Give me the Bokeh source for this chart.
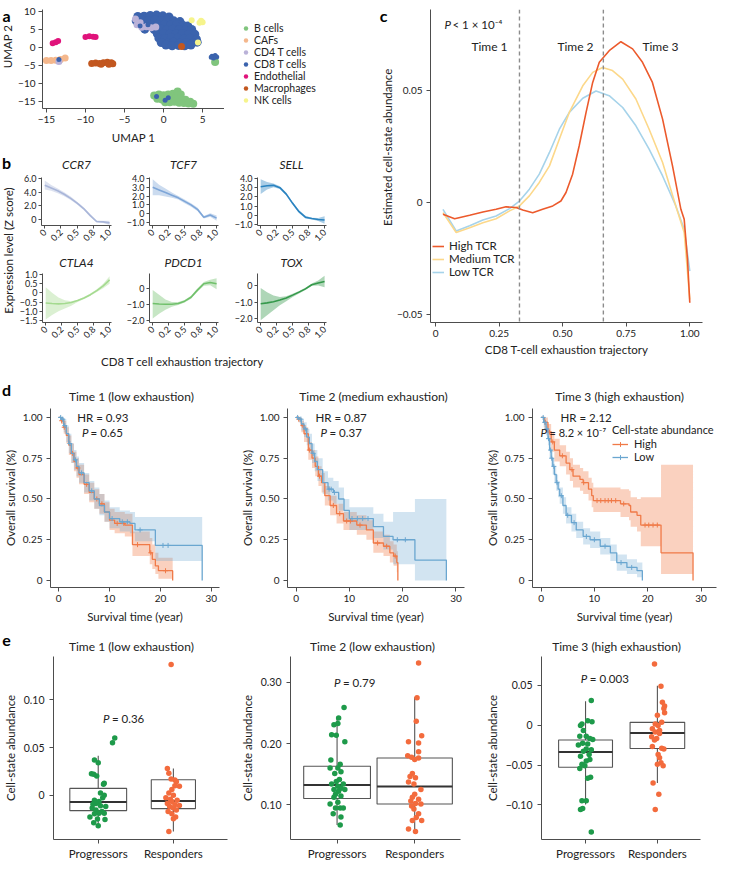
import numpy as np
from bokeh.plotting import figure
from bokeh.layouts import row, column
from bokeh.models import Range1d, FixedTicker, Label, Legend, LegendItem, Span
from bokeh.embed import file_html
from bokeh.resources import INLINE

# ---------------- DATA ----------------
# panel a : UMAP
bcell_x = [-1.2, -0.6, 0.0, 0.6, 1.2, 1.8, 2.2, -0.8, -0.2, 0.4, 1.0, 1.6, 2.2, 2.8, 3.4, 0.2, 0.8, 1.4, 2.0, 2.6, 3.2, 3.8, 6.6]
bcell_y = [-13.3, -13.0, -13.2, -13.0, -12.8, -12.2, -13.0, -14.2, -14.4, -14.3, -14.2, -14.0, -14.1, -14.5, -15.0, -15.2, -15.2, -15.0, -15.3, -15.4, -15.5, -15.6, -4.0]
caf_x = [-15.0, -14.4, -13.8, -13.2, -12.6]
caf_y = [-3.6, -3.6, -3.5, -3.3, -2.9]
cd4_x = [-3.6, -3.4, -2.8, -2.2, -1.6, -3.0, -1.0, -13.4]
cd4_y = [7.9, 6.3, 5.6, 5.8, 5.5, 6.9, 5.7, -3.9]
cd8_x = [-3.3, -2.5, -1.7, -0.9, -0.1, 0.7,
         -3.5, -2.7, -1.9, -1.1, -0.3, 0.5, 1.3, 2.1,
         -1.5, -0.7, 0.1, 0.9, 1.7, 2.5, 3.1,
         -2.4, -1.2, -0.4, 0.4, 1.2, 2.0, 2.8, 3.6,
         -0.8, 0.0, 0.8, 1.6, 2.4, 3.2, 4.0,
         -0.6, 0.2, 1.0, 1.8, 2.6, 3.4, 4.2,
         -0.3, 0.5, 1.3, 2.1, 2.9, 3.7, 4.3,
         0.3, 1.1, 1.9, 2.7, 3.5]
cd8_y = [8.6, 8.7, 8.9, 9.0, 8.8, 8.5,
         7.4, 7.6, 7.5, 7.7, 7.5, 7.6, 7.4, 7.2,
         6.2, 6.4, 6.3, 6.2, 6.4, 6.1, 6.0,
         5.1, 5.0, 5.2, 4.9, 5.1, 5.0, 4.8, 5.0,
         3.8, 3.9, 3.7, 3.8, 3.9, 3.6, 3.7,
         2.6, 2.5, 2.7, 2.6, 2.4, 2.6, 2.3,
         1.4, 1.3, 1.5, 1.2, 1.4, 1.3, 1.5,
         0.7, 0.5, 0.6, 0.5, 0.7]
cd8_stray_x = [-3.0, -2.0, -13.4, -0.9, 0.2, 0.6, 6.2, 6.6, 6.8, 6.4, 6.1]
cd8_stray_y = [6.0, 6.3, -3.3, -13.6, -14.6, -13.9, -2.4, -2.2, -2.6, -2.9, -2.7]
endo_x = [-14.2, -13.8, -13.5, -10.0, -9.5, -9.0, -8.7]
endo_y = [1.2, 1.5, 1.8, 2.9, 3.1, 3.0, 2.9]
mac_x = [-9.2, -8.7, -8.2, -7.7, -7.2, -6.7, -6.5, -8.0, -7.0, 2.3]
mac_y = [-4.4, -4.3, -4.4, -4.2, -4.1, -4.2, -4.5, -4.6, -4.6, 0.3]
nk_x = [4.8, 4.6, 5.0, 3.6, 4.4]
nk_y = [7.4, 6.9, 7.0, 7.6, 1.4]
cell_types = ["B cells", "CAFs", "CD4 T cells", "CD8 T cells", "Endothelial", "Macrophages", "NK cells"]

# panel b : expression along trajectory
traj_x = [0.0, 0.1, 0.2, 0.3, 0.4, 0.5, 0.6, 0.7, 0.8, 0.9, 1.0]
ccr7_mean = [5.0, 4.6, 4.2, 3.7, 3.1, 2.4, 1.6, 0.6, -0.3, -0.35, -0.5]
ccr7_up = [5.7, 5.05, 4.55, 4.0, 3.35, 2.6, 1.8, 0.8, -0.15, -0.2, -0.2]
ccr7_lo = [4.4, 4.2, 3.85, 3.4, 2.85, 2.2, 1.4, 0.4, -0.45, -0.5, -0.8]
tcf7_mean = [3.0, 2.7, 2.4, 2.1, 1.8, 1.4, 1.0, 0.5, -0.4, -0.15, -0.5]
tcf7_up = [3.9, 3.3, 2.85, 2.4, 2.0, 1.6, 1.2, 0.7, -0.25, 0.05, -0.2]
tcf7_lo = [2.1, 2.1, 1.95, 1.8, 1.6, 1.2, 0.8, 0.3, -0.55, -0.35, -0.8]
sell_mean = [3.1, 3.2, 3.25, 3.0, 2.3, 1.3, 0.4, -0.2, -0.35, -0.45, -0.5]
sell_up = [3.9, 3.6, 3.45, 3.15, 2.45, 1.45, 0.55, -0.05, -0.25, -0.3, -0.1]
sell_lo = [2.3, 2.8, 3.05, 2.85, 2.15, 1.15, 0.25, -0.35, -0.45, -0.6, -0.9]
ctla4_mean = [-0.55, -0.58, -0.6, -0.58, -0.52, -0.42, -0.28, -0.1, 0.12, 0.38, 0.7]
ctla4_up = [0.3, 0.0, -0.25, -0.4, -0.45, -0.37, -0.22, -0.03, 0.2, 0.5, 0.9]
ctla4_lo = [-1.45, -1.2, -1.0, -0.85, -0.7, -0.5, -0.34, -0.16, 0.04, 0.25, 0.5]
pdcd1_mean = [-0.95, -0.98, -1.0, -1.0, -0.95, -0.8, -0.55, -0.1, 0.3, 0.38, 0.3]
pdcd1_up = [-0.1, -0.4, -0.7, -0.85, -0.85, -0.72, -0.45, 0.0, 0.42, 0.55, 0.65]
pdcd1_lo = [-1.9, -1.6, -1.35, -1.15, -1.05, -0.88, -0.65, -0.2, 0.18, 0.2, -0.05]
tox_mean = [-1.1, -1.05, -0.98, -0.88, -0.75, -0.58, -0.4, -0.2, 0.05, 0.15, 0.25]
tox_up = [-0.15, -0.4, -0.6, -0.7, -0.65, -0.5, -0.33, -0.13, 0.12, 0.3, 0.6]
tox_lo = [-2.1, -1.8, -1.5, -1.2, -0.95, -0.7, -0.48, -0.27, -0.02, 0.0, -0.1]
traj_ticks = [0, 0.25, 0.5, 0.75, 1.0]
traj_tick_labels = ["0", "0.2", "0.5", "0.8", "1.0"]

# panel c : cell-state abundance along trajectory
high_tcr_x = [0.029, 0.075, 0.134, 0.186, 0.238, 0.277, 0.317, 0.343, 0.382, 0.421, 0.461, 0.493, 0.513, 0.539, 0.565, 0.592, 0.618, 0.644, 0.683, 0.729, 0.775, 0.814, 0.853, 0.893, 0.932, 0.965, 0.978, 0.991, 1.0]
high_tcr_y = [-0.0052, -0.0072, -0.0057, -0.0042, -0.0030, -0.0019, -0.0022, -0.0033, -0.0045, -0.0030, -0.0015, 0.0007, 0.0045, 0.0127, 0.0254, 0.0403, 0.0537, 0.0627, 0.0679, 0.0719, 0.0687, 0.0627, 0.0537, 0.0373, 0.0164, -0.0030, -0.0075, -0.0254, -0.0448]
med_tcr_x = [0.029, 0.081, 0.134, 0.186, 0.238, 0.291, 0.330, 0.369, 0.408, 0.448, 0.487, 0.526, 0.579, 0.618, 0.657, 0.696, 0.736, 0.788, 0.840, 0.893, 0.945, 0.978, 1.0]
med_tcr_y = [-0.0045, -0.0134, -0.0112, -0.0090, -0.0072, -0.0037, -0.0015, 0.0030, 0.0090, 0.0164, 0.0284, 0.0403, 0.0522, 0.0582, 0.0604, 0.0590, 0.0552, 0.0463, 0.0328, 0.0179, -0.0015, -0.0134, -0.0433]
low_tcr_x = [0.029, 0.081, 0.134, 0.186, 0.238, 0.291, 0.330, 0.369, 0.408, 0.448, 0.487, 0.526, 0.579, 0.631, 0.683, 0.736, 0.788, 0.840, 0.893, 0.945, 0.978, 1.0]
low_tcr_y = [-0.0030, -0.0127, -0.0104, -0.0078, -0.0060, -0.0027, 0.0007, 0.0060, 0.0127, 0.0224, 0.0328, 0.0403, 0.0466, 0.0499, 0.0478, 0.0425, 0.0343, 0.0239, 0.0119, -0.0015, -0.0119, -0.0306]
time_cuts = [0.33, 0.66]

# panel d : Kaplan-Meier (High = orange, Low = blue)
t1_high_time = [0, 0.5, 1, 1.5, 2, 2.5, 3, 3.5, 4, 5, 6, 7, 8, 9, 10, 11, 13, 14.5, 17.9, 18.4, 19, 19.6, 22.4]
t1_high_surv = [1, 0.98, 0.94, 0.89, 0.83, 0.78, 0.73, 0.69, 0.65, 0.59, 0.54, 0.5, 0.47, 0.42, 0.37, 0.35, 0.34, 0.22, 0.17, 0.13, 0.09, 0.06, 0.0]
t1_high_upper = [1, 1, 0.98, 0.94, 0.89, 0.84, 0.79, 0.75, 0.71, 0.65, 0.6, 0.56, 0.53, 0.48, 0.44, 0.42, 0.41, 0.3, 0.26, 0.22, 0.17, 0.14, 0]
t1_high_lower = [1, 0.96, 0.9, 0.84, 0.77, 0.72, 0.67, 0.63, 0.59, 0.53, 0.48, 0.44, 0.41, 0.36, 0.31, 0.29, 0.27, 0.15, 0.1, 0.07, 0.04, 0.01, 0]
t1_high_censor = [0.6, 1.1, 2.7, 3.8, 5.5, 7.5, 8.5, 11.5, 12.8, 15.5, 18.1, 21.0]
t1_low_time = [0, 0.5, 1, 1.5, 2, 2.5, 3, 3.5, 4, 5, 6, 7, 8, 9, 10, 12, 14, 15, 19, 28.2]
t1_low_surv = [1, 0.99, 0.95, 0.9, 0.84, 0.78, 0.74, 0.7, 0.66, 0.6, 0.55, 0.5, 0.46, 0.42, 0.38, 0.36, 0.35, 0.31, 0.215, 0.0]
t1_low_upper = [1, 1, 0.99, 0.95, 0.9, 0.84, 0.8, 0.76, 0.72, 0.66, 0.61, 0.57, 0.53, 0.49, 0.45, 0.43, 0.42, 0.39, 0.39, 0]
t1_low_lower = [1, 0.97, 0.91, 0.85, 0.78, 0.72, 0.68, 0.64, 0.6, 0.54, 0.49, 0.44, 0.4, 0.36, 0.32, 0.3, 0.29, 0.24, 0.12, 0]
t1_low_censor = [0.4, 0.8, 1.2, 2.2, 3.3, 4.5, 6.5, 10.5, 12.5, 13.5, 16.0, 20.5, 21.5]

t2_high_time = [0, 0.5, 1, 1.5, 2.3, 3, 3.6, 4.2, 4.8, 5.4, 6.4, 7.6, 8.9, 11.4, 13.2, 14.5, 16.4, 17.6, 18.3, 18.9, 19.1]
t2_high_surv = [1, 0.99, 0.95, 0.9, 0.8, 0.75, 0.7, 0.64, 0.6, 0.52, 0.46, 0.41, 0.365, 0.34, 0.31, 0.23, 0.21, 0.17, 0.15, 0.11, 0.0]
t2_high_upper = [1, 1, 0.98, 0.94, 0.85, 0.8, 0.76, 0.7, 0.66, 0.58, 0.52, 0.47, 0.42, 0.4, 0.37, 0.3, 0.28, 0.24, 0.22, 0.18, 0]
t2_high_lower = [1, 0.97, 0.91, 0.85, 0.74, 0.69, 0.64, 0.58, 0.54, 0.46, 0.4, 0.35, 0.31, 0.28, 0.25, 0.17, 0.15, 0.11, 0.09, 0.05, 0]
t2_high_censor = [0.5, 1.3, 2.5, 4.4, 7.0, 8.2, 9.5, 10.2, 12.0, 15.3, 17.0, 18.6]
t2_low_time = [0, 0.5, 1, 1.5, 2, 2.5, 3, 3.5, 4, 5, 6, 7, 8, 9, 10, 14.5, 16.4, 18.2, 22.3, 28.2]
t2_low_surv = [1, 0.99, 0.96, 0.93, 0.88, 0.84, 0.78, 0.73, 0.68, 0.6, 0.56, 0.54, 0.5, 0.43, 0.38, 0.33, 0.27, 0.25, 0.125, 0.0]
t2_low_upper = [1, 1, 0.99, 0.97, 0.93, 0.9, 0.84, 0.8, 0.75, 0.67, 0.63, 0.61, 0.57, 0.5, 0.45, 0.41, 0.36, 0.42, 0.5, 0]
t2_low_lower = [1, 0.97, 0.92, 0.88, 0.83, 0.78, 0.72, 0.67, 0.61, 0.53, 0.49, 0.47, 0.43, 0.36, 0.31, 0.26, 0.19, 0.1, 0.0, 0]
t2_low_censor = [0.3, 0.9, 1.8, 3.2, 6.2, 6.6, 7.2, 10.5, 11.5, 12.5, 13.5, 19.0, 20.5]

t3_high_time = [0, 0.6, 1.3, 1.9, 2.5, 3.5, 4.7, 5.4, 6.0, 7.3, 7.9, 8.9, 9.5, 9.8, 14.9, 16.5, 16.8, 18.0, 18.7, 22.5, 28.5]
t3_high_surv = [1, 0.97, 0.91, 0.85, 0.8, 0.765, 0.72, 0.68, 0.64, 0.62, 0.6, 0.56, 0.52, 0.49, 0.47, 0.46, 0.42, 0.4, 0.34, 0.17, 0.0]
t3_high_upper = [1, 1, 0.96, 0.91, 0.87, 0.83, 0.79, 0.75, 0.71, 0.69, 0.67, 0.63, 0.6, 0.57, 0.56, 0.55, 0.51, 0.5, 0.51, 0.71, 0]
t3_high_lower = [1, 0.93, 0.86, 0.79, 0.73, 0.7, 0.65, 0.61, 0.57, 0.55, 0.53, 0.49, 0.45, 0.42, 0.39, 0.37, 0.33, 0.3, 0.21, 0.04, 0]
t3_high_censor = [0.8, 1.6, 2.2, 4.0, 5.8, 8.0, 10.5, 11.2, 12.0, 12.6, 13.2, 14.0, 15.5, 19.5, 20.2, 21.0, 21.8]
t3_low_time = [0, 0.5, 0.95, 1.3, 1.6, 1.9, 2.2, 2.5, 2.85, 3.2, 3.5, 4.1, 4.7, 5.7, 6.6, 7.9, 9.2, 11.1, 13.0, 14.2, 16.1, 18.0, 19.0]
t3_low_surv = [1, 0.97, 0.93, 0.87, 0.8, 0.75, 0.7, 0.65, 0.6, 0.56, 0.52, 0.46, 0.4, 0.355, 0.31, 0.27, 0.25, 0.21, 0.17, 0.11, 0.08, 0.06, 0.0]
t3_low_upper = [1, 1, 0.96, 0.91, 0.85, 0.8, 0.75, 0.7, 0.65, 0.61, 0.57, 0.51, 0.45, 0.41, 0.36, 0.32, 0.3, 0.26, 0.22, 0.16, 0.13, 0.11, 0]
t3_low_lower = [1, 0.94, 0.89, 0.83, 0.75, 0.7, 0.65, 0.6, 0.55, 0.51, 0.47, 0.41, 0.35, 0.3, 0.26, 0.22, 0.2, 0.16, 0.12, 0.06, 0.04, 0.02, 0]
t3_low_censor = [0.4, 0.7, 1.1, 1.4, 1.8, 2.0, 2.4, 3.0, 3.8, 5.0, 6.2, 8.5, 10.0, 12.0, 15.0, 17.0]
hr_text = ["HR = 0.93", "HR = 0.87", "HR = 2.12"]
p_text = ["= 0.65", "= 0.37", "= 8.2 × 10\u207b\u2077"]

# panel e : box plots (Progressors, Responders)
groups = ["Progressors", "Responders"]
e1_prog = [0.060, 0.055, 0.037, 0.034, 0.0225, 0.022, 0.020, 0.0125, 0.0115, 0.0024, 0.0, -0.0027, -0.0054, -0.0067, -0.0088, -0.0094, -0.011, -0.012, -0.0135, -0.0155, -0.017, -0.019, -0.019, -0.0195, -0.023, -0.025, -0.0256, -0.029, -0.032]
e1_prog_jit = [0.22, 0.19, -0.05, 0.0, -0.09, -0.06, -0.02, 0.08, 0.07, 0.03, 0.08, 0.06, -0.05, 0.01, -0.03, -0.07, 0.03, 0.10, -0.08, -0.03, 0.05, 0.01, 0.08, -0.05, -0.11, -0.01, 0.09, -0.06, 0.0]
e1_resp = [0.137, 0.028, 0.023, 0.017, 0.016, 0.014, 0.0094, 0.0098, 0.006, 0.0024, 0.0, -0.0027, -0.0044, -0.0054, -0.0067, -0.0088, -0.010, -0.0108, -0.012, -0.0135, -0.0155, -0.017, -0.0195, -0.023, -0.0246, -0.038]
e1_resp_jit = [-0.03, -0.08, -0.06, -0.03, 0.02, 0.04, 0.08, 0.02, -0.02, -0.06, 0.0, -0.10, -0.04, 0.05, -0.02, -0.08, 0.02, 0.08, -0.05, 0.0, 0.04, -0.07, -0.02, 0.03, 0.0, -0.06]
e2_prog = [0.259, 0.242, 0.233, 0.231, 0.2145, 0.2135, 0.203, 0.173, 0.166, 0.160, 0.160, 0.154, 0.151, 0.141, 0.138, 0.134, 0.134, 0.130, 0.127, 0.125, 0.125, 0.122, 0.117, 0.114, 0.112, 0.104, 0.101, 0.0947, 0.0947, 0.0947, 0.085, 0.080, 0.0667]
e2_prog_jit = [0.09, 0.02, 0.01, -0.04, -0.07, -0.01, 0.10, -0.08, 0.04, 0.01, -0.09, 0.05, -0.03, 0.03, -0.01, -0.07, 0.08, 0.01, 0.05, -0.04, 0.10, 0.02, -0.02, 0.05, -0.04, 0.01, -0.09, -0.02, 0.04, 0.08, -0.05, 0.05, 0.04]
e2_resp = [0.332, 0.275, 0.2367, 0.213, 0.203, 0.201, 0.1865, 0.180, 0.1776, 0.1765, 0.174, 0.151, 0.146, 0.144, 0.137, 0.134, 0.125, 0.117, 0.112, 0.109, 0.106, 0.102, 0.098, 0.101, 0.093, 0.085, 0.079, 0.074, 0.074, 0.060, 0.056]
e2_resp_jit = [0.05, 0.03, 0.02, 0.09, -0.08, 0.05, 0.05, -0.09, -0.04, 0.05, 0.0, -0.03, -0.06, 0.01, -0.08, -0.01, 0.08, 0.0, -0.03, 0.05, -0.05, 0.01, -0.04, 0.08, -0.01, 0.05, 0.02, -0.03, 0.09, -0.08, 0.01]
e3_prog = [0.031, 0.0057, 0.0016, -0.0004, 0.0045, -0.0065, -0.0138, -0.0138, -0.0166, -0.0178, -0.0227, -0.0235, -0.0247, -0.030, -0.0308, -0.0328, -0.0369, -0.0389, -0.043, -0.045, -0.049, -0.051, -0.0543, -0.0653, -0.0665, -0.0949, -0.0949, -0.1046, -0.1058, -0.134]
e3_prog_jit = [0.08, 0.03, -0.05, -0.07, 0.09, -0.03, 0.01, -0.08, 0.06, 0.10, -0.04, 0.03, -0.10, 0.01, 0.08, -0.03, 0.05, -0.07, 0.06, 0.01, -0.05, -0.01, -0.08, 0.07, 0.03, -0.05, 0.01, -0.04, -0.07, 0.08]
e3_resp = [0.077, 0.049, 0.0288, 0.024, 0.021, 0.0158, 0.0126, 0.0036, 0.0016, -0.0004, -0.0045, -0.0065, -0.0085, -0.0105, -0.0146, -0.0166, -0.0186, -0.0268, -0.0288, -0.030, -0.0369, -0.041, -0.047, -0.049, -0.051, -0.0726, -0.0867, -0.1058]
e3_resp_jit = [-0.04, 0.05, 0.07, 0.10, 0.09, 0.10, 0.0, 0.06, -0.03, 0.01, -0.07, 0.03, -0.03, 0.03, -0.08, -0.01, -0.04, -0.07, 0.06, 0.09, 0.01, 0.03, 0.05, 0.0, 0.08, -0.06, 0.02, -0.03]
# box statistics [Progressors, Responders]
e1_q1 = [-0.0162, -0.0141]; e1_med = [-0.0071, -0.0060]; e1_q3 = [0.0071, 0.0162]
e1_wlo = [-0.031, -0.038]; e1_whi = [0.0414, 0.028]
e2_q1 = [0.110, 0.101]; e2_med = [0.132, 0.1296]; e2_q3 = [0.163, 0.1765]
e2_wlo = [0.0667, 0.056]; e2_whi = [0.2435, 0.276]
e3_q1 = [-0.0527, -0.0292]; e3_med = [-0.0336, -0.0097]; e3_q3 = [-0.0186, 0.0036]
e3_wlo = [-0.0997, -0.0726]; e3_whi = [0.030, 0.0495]
e_pvals = ["= 0.36", "= 0.79", "= 0.003"]

# ---------------- STYLE / HELPERS ----------------
FONT = "Lato"
AX = "#4d4d4d"
TXT = "#222222"
GEOM = {}


def mkfig(page, frame, xr, yr, axes=True):
    L, T, R, B = page
    fl, ft, fr, fb = frame
    kw = dict(width=R - L, height=B - T, x_range=Range1d(*xr), y_range=Range1d(*yr),
              output_backend="svg", toolbar_location=None,
              min_border_left=fl - L, min_border_right=R - fr,
              min_border_top=ft - T, min_border_bottom=B - fb)
    if not axes:
        kw.update(x_axis_location=None, y_axis_location=None)
    p = figure(**kw)
    p.outline_line_color = None
    p.background_fill_color = None
    p.border_fill_color = None
    p.xgrid.visible = False
    p.ygrid.visible = False
    GEOM[p.id] = (frame, xr, yr)
    return p


def strip(page, xr=(0, 1), yr=(0, 1)):
    return mkfig(page, page, xr, yr, axes=False)


def style(p, xt, xl, yt, yl, xlabel=None, ylabel=None, fs="10px", lfs="11.5px",
          xstand=3, ystand=3, xlst=4, ylst=4, orient=None):
    for ax in p.axis:
        ax.axis_line_color = AX
        ax.axis_line_width = 1
        ax.major_tick_line_color = AX
        ax.major_tick_out = 4
        ax.major_tick_in = 0
        ax.minor_tick_line_color = None
        ax.major_label_text_font = FONT
        ax.major_label_text_font_size = fs
        ax.major_label_text_color = TXT
        ax.axis_label_text_font = FONT
        ax.axis_label_text_font_size = lfs
        ax.axis_label_text_font_style = "normal"
        ax.axis_label_text_color = TXT
    p.xaxis.ticker = FixedTicker(ticks=xt)
    p.xaxis.major_label_overrides = dict(zip(xt, xl))
    p.yaxis.ticker = FixedTicker(ticks=yt)
    p.yaxis.major_label_overrides = dict(zip(yt, yl))
    p.xaxis.major_label_standoff = xstand
    p.yaxis.major_label_standoff = ystand
    if xlabel:
        p.xaxis.axis_label = xlabel
        p.xaxis.axis_label_standoff = xlst
    if ylabel:
        p.yaxis.axis_label = ylabel
        p.yaxis.axis_label_standoff = ylst
    if orient is not None:
        p.xaxis.major_label_orientation = orient


def lab(p, px, py, text, size="11.5px", align="center", base="middle", fstyle="normal", angle=0, color=TXT):
    (fl, ft, fr, fb), (x0, x1), (y0, y1) = GEOM[p.id]
    x = x0 + (px - fl) / (fr - fl) * (x1 - x0)
    y = y1 - (py - ft) / (fb - ft) * (y1 - y0)
    p.add_layout(Label(x=x, y=y, text=text, text_font=FONT, text_font_size=size, text_align=align,
                       text_baseline=base, text_font_style=fstyle, angle=angle, text_color=color))


def dlab(p, x, y, text, size="11.5px", align="left", fstyle="normal", xoff=0):
    p.add_layout(Label(x=x, y=y, text=text, text_font=FONT, text_font_size=size, text_align=align,
                       text_baseline="middle", text_font_style=fstyle, x_offset=xoff, text_color=TXT))


def legend_style(lg, fs="11px"):
    lg.label_text_font = FONT
    lg.label_text_font_size = fs
    lg.label_text_color = TXT
    lg.background_fill_alpha = 0
    lg.border_line_color = None
    lg.padding = 0
    lg.spacing = 0


def mneg(v, fmt):
    s = fmt.format(abs(v))
    if v == 0:
        return "0"
    return ("\u2212" + s) if v < 0 else s


LETTER = dict(size="16px", fstyle="bold", color="black")

# ---------------- PANEL a ----------------
a_strip = strip((8, 8, 22, 158))
lab(a_strip, 14, 17, "a", **LETTER)
lab(a_strip, 15, 64, "UMAP 2", angle=np.pi / 2)
pa = mkfig((22, 8, 232, 158), (50, 17, 232, 116), (-15.5, 7.8), (-16.9, 10.55))
ua_xt = [-15, -10, -5, 0, 5]
ua_yt = [-15, -10, -5, 0, 5, 10]
style(pa, ua_xt, [mneg(v, "{:g}") for v in ua_xt], ua_yt, [mneg(v, "{:g}") for v in ua_yt],
      xlabel="UMAP 1", xlst=5)
umap_cols = ["#80c57d", "#f4b78c", "#bab2d8", "#3b63ad", "#e0137b", "#c2571f", "#f6f48c"]
pa.scatter(bcell_x, bcell_y, size=8, fill_color=umap_cols[0], line_color=None)
pa.scatter(caf_x, caf_y, size=7, fill_color=umap_cols[1], line_color=None)
pa.scatter(cd8_x, cd8_y, size=9, fill_color=umap_cols[3], line_color=None)
pa.scatter(cd4_x, cd4_y, size=7, fill_color=umap_cols[2], line_color=None)
pa.scatter(cd8_stray_x, cd8_stray_y, size=5, fill_color=umap_cols[3], line_color=None)
pa.scatter(endo_x, endo_y, size=6, fill_color=umap_cols[4], line_color=None)
pa.scatter(mac_x, mac_y, size=7, fill_color=umap_cols[5], line_color=None)
pa.scatter(nk_x, nk_y, size=6, fill_color=umap_cols[6], line_color=None)

# legend for panel a in its own plot; its ranges keep the copies of the data out of view
a_leg = mkfig((232, 8, 370, 158), (232, 17, 370, 116), (100, 101), (100, 101), axes=False)
a_sets = [(bcell_x, bcell_y), (caf_x, caf_y), (cd4_x, cd4_y), (cd8_x, cd8_y),
          (endo_x, endo_y), (mac_x, mac_y), (nk_x, nk_y)]
proxies = [a_leg.scatter(xs, ys, size=8, fill_color=c, line_color=None) for (xs, ys), c in zip(a_sets, umap_cols)]
leg_a = Legend(items=[LegendItem(label=n, renderers=[r]) for n, r in zip(cell_types, proxies)],
               location=(16, 2))
legend_style(leg_a, "10.5px")
leg_a.label_height = 12
leg_a.glyph_height = 12
leg_a.glyph_width = 11
leg_a.label_standoff = 3
leg_a.spacing = 0
a_leg.add_layout(leg_a)

# ---------------- PANEL b ----------------
bstrip = strip((8, 158, 24, 385))
lab(bstrip, 14, 170, "b", **LETTER)
lab(bstrip, 16, 258, "Expression level (Z score)", angle=np.pi / 2)
bt1 = strip((24, 158, 370, 180))
bt2 = strip((24, 262, 370, 277))
bxl = strip((24, 355, 370, 385))
lab(bxl, 190, 369, "CD8 T cell exhaustion trajectory")

b_specs = [
    ("CCR7", (24, 180, 131, 262), (49, 185, 119, 233), (-0.88, 6.15), [0, 2, 4, 6], ccr7_mean, ccr7_lo, ccr7_up, "#a9b6d9"),
    ("TCF7", (131, 180, 239, 262), (156, 185, 226, 233), (-1.34, 4.11), [-1, 0, 1, 2, 3, 4], tcf7_mean, tcf7_lo, tcf7_up, "#7ea6d8"),
    ("SELL", (239, 180, 370, 262), (264, 185, 334, 233), (-1.1, 4.1), [-1, 0, 1, 2, 3, 4], sell_mean, sell_lo, sell_up, "#2a83c0"),
    ("CTLA4", (24, 277, 131, 355), (49, 281, 119, 330), (-1.61, 1.05), [-1.5, -1, -0.5, 0, 0.5, 1], ctla4_mean, ctla4_lo, ctla4_up, "#a4da8f"),
    ("PDCD1", (131, 277, 239, 355), (156, 281, 226, 330), (-2.15, 0.95), [-2, -1, 0], pdcd1_mean, pdcd1_lo, pdcd1_up, "#70c06b"),
    ("TOX", (239, 277, 370, 355), (264, 281, 334, 330), (-2.24, 0.73), [-2, -1, 0], tox_mean, tox_lo, tox_up, "#35994b"),
]
bfigs = []
for k, (name, page, frame, yr, yt, mean, lo, up, col) in enumerate(b_specs):
    p = mkfig(page, frame, (-0.05, 1.03), yr)
    style(p, traj_ticks, traj_tick_labels, yt, [mneg(v, "{:.1f}") for v in yt], fs="9px",
          xstand=2, ystand=2, orient=np.pi / 4)
    for ax in p.axis:
        ax.major_tick_out = 3
    p.varea(x=traj_x, y1=lo, y2=up, fill_color=col, fill_alpha=0.4)
    p.line(traj_x, mean, line_color=col, line_width=1.6)
    cx = (frame[0] + frame[2]) / 2
    if k < 3:
        lab(bt1, cx, 172, name, size="12px", fstyle="italic")
    else:
        lab(bt2, cx, 270, name, size="12px", fstyle="italic")
    bfigs.append(p)

# ---------------- PANEL c ----------------
c_strip = strip((370, 8, 401, 385))
lab(c_strip, 391, 15, "c", **LETTER)
lab(c_strip, 395, 174, "Estimated cell-state abundance", angle=np.pi / 2)
pc = mkfig((401, 8, 728, 385), (438, 17, 710, 330), (-0.02, 1.05), (-0.0536, 0.0863))
c_xt = [0, 0.25, 0.5, 0.75, 1.0]
c_yt = [-0.05, 0, 0.05]
style(pc, c_xt, ["0", "0.25", "0.50", "0.75", "1.00"], c_yt, [mneg(v, "{:.2f}") for v in c_yt],
      xlabel="CD8 T-cell exhaustion trajectory", xlst=3, ystand=4)
for tc in time_cuts:
    pc.add_layout(Span(location=tc, dimension="height", line_color="#8c8c8c", line_dash="4 3", line_width=1.4))
rl = pc.line(low_tcr_x, low_tcr_y, line_color="#a6d3ea", line_width=1.6)
rm = pc.line(med_tcr_x, med_tcr_y, line_color="#fcd88a", line_width=1.6)
rh = pc.line(high_tcr_x, high_tcr_y, line_color="#ec5a2c", line_width=1.6)
leg_c = Legend(items=[LegendItem(label="High TCR", renderers=[rh]),
                      LegendItem(label="Medium TCR", renderers=[rm]),
                      LegendItem(label="Low TCR", renderers=[rl])], location=(2, 44))
legend_style(leg_c, "11.5px")
leg_c.label_height = 12
leg_c.glyph_height = 12
leg_c.glyph_width = 12
leg_c.label_standoff = 5
pc.add_layout(leg_c)
lab(pc, 452, 32, "P", align="left", fstyle="italic")
lab(pc, 460, 32, "< 1 × 10\u207b\u2074", align="left")
for tx, name in zip([497, 583, 668], ["Time 1", "Time 2", "Time 3"]):
    lab(pc, tx, 54, name, size="12px")

# ---------------- PANEL d ----------------
ORANGE = "#f07a48"
BLUE = "#6aa6d0"
d_titles = ["Time 1 (low exhaustion)", "Time 2 (medium exhaustion)", "Time 3 (high exhaustion)"]
d_pages = [(8, 411, 245, 636), (245, 411, 490, 636), (490, 411, 728, 636)]
d_frames = [(50, 416, 227, 595), (295, 416, 472, 595), (540, 416, 724, 595)]
d_xr = [(-1.6, 31.6), (-1.6, 31.6), (-1.6, 32.9)]
d_title_x = [139, 381, 627]
d_strip = strip((8, 385, 728, 411))
lab(d_strip, 14, 397, "d", **LETTER)
for tx, tt in zip(d_title_x, d_titles):
    lab(d_strip, tx, 404, tt, size="12px")
km = [
    ((t1_high_time, t1_high_surv, t1_high_lower, t1_high_upper, t1_high_censor),
     (t1_low_time, t1_low_surv, t1_low_lower, t1_low_upper, t1_low_censor)),
    ((t2_high_time, t2_high_surv, t2_high_lower, t2_high_upper, t2_high_censor),
     (t2_low_time, t2_low_surv, t2_low_lower, t2_low_upper, t2_low_censor)),
    ((t3_high_time, t3_high_surv, t3_high_lower, t3_high_upper, t3_high_censor),
     (t3_low_time, t3_low_surv, t3_low_lower, t3_low_upper, t3_low_censor)),
]
d_yt = [0, 0.25, 0.5, 0.75, 1.0]
dfigs = []
for i in range(3):
    p = mkfig(d_pages[i], d_frames[i], d_xr[i], (-0.043, 1.055))
    style(p, [0, 10, 20, 30], ["0", "10", "20", "30"], d_yt, ["0", "0.25", "0.50", "0.75", "1.00"],
          xlabel="Survival time (year)", ylabel="Overall survival (%)", xlst=5, ylst=3, ystand=4)
    rends = {}
    for (t, s, lo, up, cens), col, alpha in zip(km[i], [ORANGE, BLUE], [0.35, 0.3]):
        p.varea_step(x=t, y1=lo, y2=up, step_mode="after", fill_color=col, fill_alpha=alpha)
    for (t, s, lo, up, cens), col, key in zip(km[i], [ORANGE, BLUE], ["High", "Low"]):
        rs = p.step(t, s, mode="after", line_color=col, line_width=1.3)
        ta = np.array(t, dtype=float)
        idx = np.searchsorted(ta, np.array(cens, dtype=float), side="right") - 1
        cy = [s[j] for j in idx]
        rc = p.scatter(cens, cy, marker="cross", size=5, line_color=col, line_width=1)
        rends[key] = [rs, rc]
    fr = d_frames[i]
    lab(p, fr[0] + 28, 425, hr_text[i], align="left")
    px = fr[0] + (33 if i < 2 else 8)
    lab(p, px, 440, "P", align="left", fstyle="italic")
    lab(p, px + 9, 440, p_text[i], align="left", size=("11.5px" if i < 2 else "11px"))
    if i == 2:
        leg_d = Legend(items=[LegendItem(label="High", renderers=rends["High"]),
                              LegendItem(label="Low", renderers=rends["Low"])],
                       location=(80, 124), title="Cell-state abundance")
        legend_style(leg_d, "11px")
        leg_d.title_text_font = FONT
        leg_d.title_text_font_size = "11px"
        leg_d.title_text_font_style = "normal"
        leg_d.title_text_color = TXT
        leg_d.title_standoff = 1
        leg_d.label_height = 12
        leg_d.glyph_height = 12
        leg_d.glyph_width = 16
        leg_d.label_standoff = 6
        p.add_layout(leg_d)
    dfigs.append(p)

# ---------------- PANEL e ----------------
GREEN = "#1e9a4a"
ORANGE2 = "#f36b3d"
e_titles = ["Time 1 (low exhaustion)", "Time 2 (low exhaustion)", "Time 3 (high exhaustion)"]
e_pages = [(8, 661, 245, 870), (245, 661, 490, 870), (490, 661, 728, 870)]
e_frames = [(52, 664, 235, 848), (293, 664, 468, 848), (539, 664, 708, 848)]
e_xr = [(0.405, 2.72), (0.40, 2.59), (0.387, 2.60)]
e_yr = [(-0.0465, 0.1455), (0.043, 0.3425), (-0.1435, 0.0863)]
e_yt = [[0, 0.05, 0.10], [0.10, 0.20, 0.30], [-0.10, -0.05, 0, 0.05]]
e_title_x = [139, 380, 624]
e_box_w = [[0.756, 0.588], [0.86, 0.97], [0.75, 0.76]]
e_p_pos = [(1.063, 0.08), (0.96, 0.30), (0.935, 0.059)]
e_strip = strip((8, 636, 728, 661))
lab(e_strip, 14, 648, "e", **LETTER)
for tx, tt in zip(e_title_x, e_titles):
    lab(e_strip, tx, 654, tt, size="12px")
e_data = [
    (e1_prog, e1_prog_jit, e1_resp, e1_resp_jit, e1_q1, e1_med, e1_q3, e1_wlo, e1_whi),
    (e2_prog, e2_prog_jit, e2_resp, e2_resp_jit, e2_q1, e2_med, e2_q3, e2_wlo, e2_whi),
    (e3_prog, e3_prog_jit, e3_resp, e3_resp_jit, e3_q1, e3_med, e3_q3, e3_wlo, e3_whi),
]
efigs = []
for i in range(3):
    prog, pj, resp, rj, q1, med, q3, wlo, whi = e_data[i]
    p = mkfig(e_pages[i], e_frames[i], e_xr[i], e_yr[i])
    style(p, [1, 2], groups, e_yt[i], [mneg(v, "{:.2f}") for v in e_yt[i]],
          ylabel="Cell-state abundance", fs="10.5px", lfs="11.5px", ylst=4, ystand=5, xstand=3)
    p.xaxis.major_label_text_font_size = "11.5px"
    xs = [1, 2]
    w = e_box_w[i]
    p.segment(x0=xs, y0=q3, x1=xs, y1=whi, line_color="#555555", line_width=1.1)
    p.segment(x0=xs, y0=wlo, x1=xs, y1=q1, line_color="#555555", line_width=1.1)
    p.vbar(x=xs, width=w, bottom=q1, top=q3, fill_color=None, line_color="#555555", line_width=1.1)
    p.segment(x0=[x - ww / 2 for x, ww in zip(xs, w)], y0=med, x1=[x + ww / 2 for x, ww in zip(xs, w)], y1=med,
              line_color="#333333", line_width=2)
    p.scatter([1 + j for j in pj], prog, size=5.5, fill_color=GREEN, line_color=None)
    p.scatter([2 + j for j in rj], resp, size=5.5, fill_color=ORANGE2, line_color=None)
    px, py = e_p_pos[i]
    dlab(p, px, py, "P", fstyle="italic")
    dlab(p, px, py, e_pvals[i], xoff=9)
    efigs.append(p)

# ---------------- LAYOUT ----------------
bgrid = column(bt1, row(bfigs[0], bfigs[1], bfigs[2]), bt2, row(bfigs[3], bfigs[4], bfigs[5]), bxl)
left_top = column(row(a_strip, pa, a_leg), row(bstrip, bgrid))
top = row(left_top, row(c_strip, pc))
root = column(top, d_strip, row(*dfigs), e_strip, row(*efigs))

open("out.html", "w").write(file_html(root, INLINE))
